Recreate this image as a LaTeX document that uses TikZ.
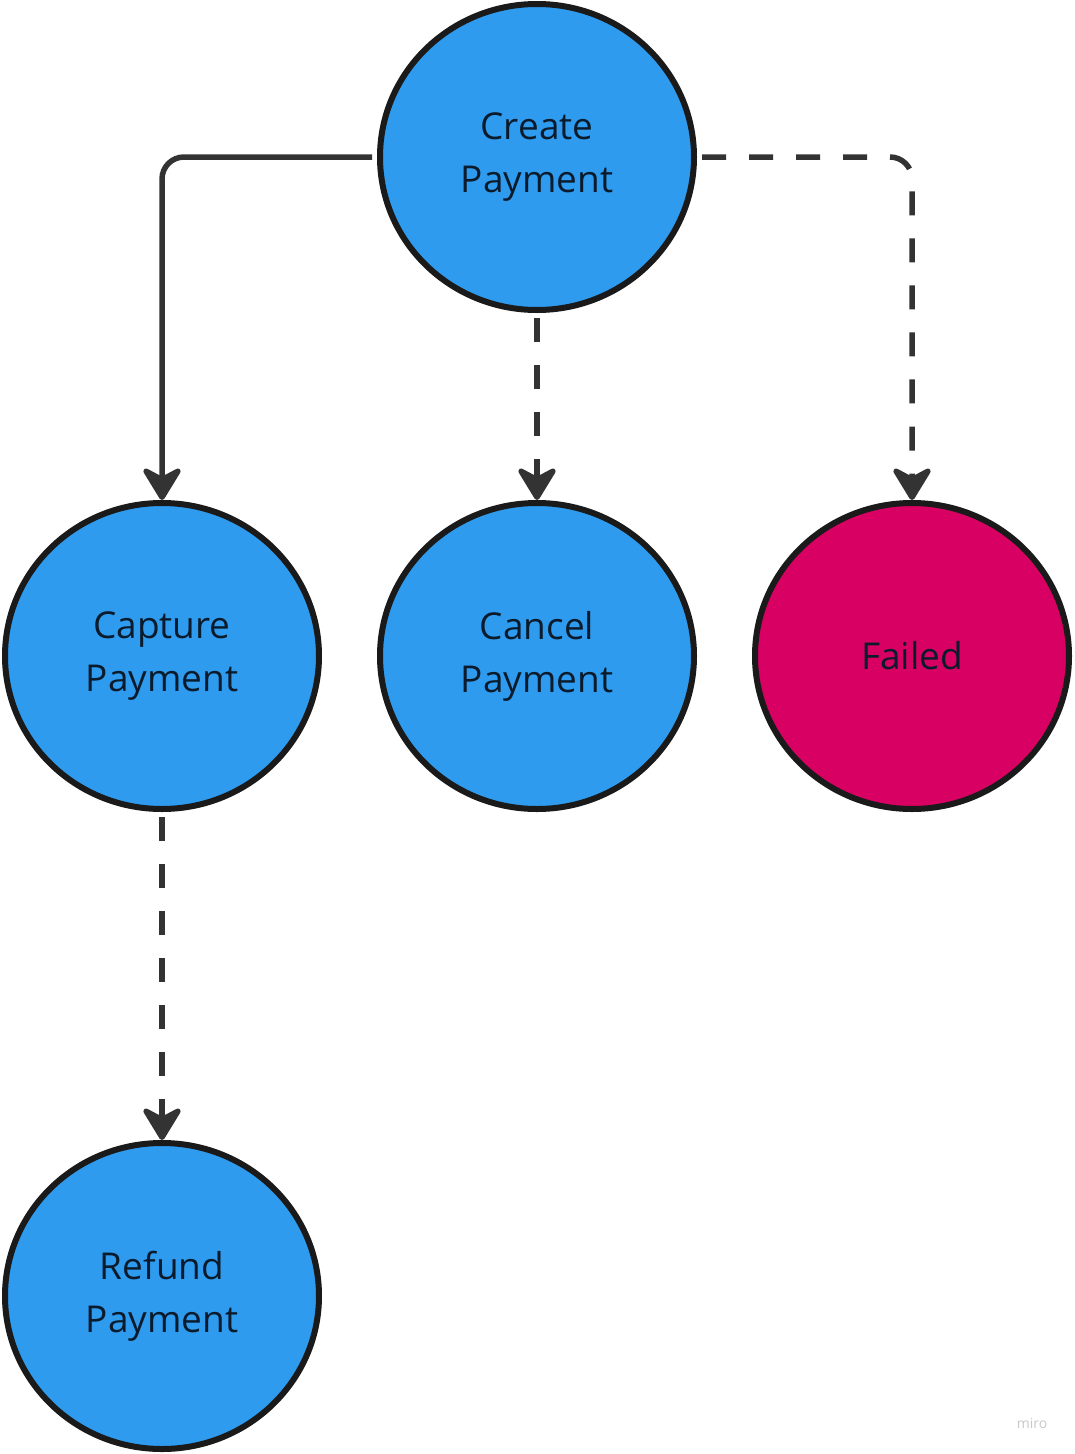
\documentclass[tikz,border=0pt]{standalone}
\usepackage{fontspec}
\setmainfont{Open Sans}
\usetikzlibrary{arrows.meta,shapes.geometric}
\definecolor{stblue}{HTML}{2F9BEF}
\definecolor{stred}{HTML}{D80062}
\definecolor{stborder}{HTML}{1A1A1A}
\definecolor{sttext}{HTML}{0B1B2B}
\definecolor{stline}{HTML}{333333}
\definecolor{stmark}{HTML}{C8C8C8}
\tikzset{
  state/.style={ellipse, draw=stborder, line width=6pt, minimum width=314pt, minimum height=306pt,
    inner sep=0pt, align=center, text=sttext, font=\fontsize{37}{53}\selectfont},
  bluestate/.style={state, fill=stblue},
  redstate/.style={state, fill=stred},
  conn/.style={draw=stline, line width=5.5pt, rounded corners=22pt,
    -{Stealth[length=38pt,width=46pt,inset=12pt,round]}},
  dashconn/.style={conn, dash pattern=on 24pt off 23pt}
}
\begin{document}
\begin{tikzpicture}[x=1pt,y=-1pt]
\useasboundingbox (0,0) rectangle (1074,1454);
\node[bluestate] (create) at (537,157) {Create\\Payment};
\node[bluestate] (capture) at (162,656) {Capture\\Payment};
\node[bluestate] (cancel) at (537,656) {Cancel\\Payment};
\node[redstate] (failed) at (912,656) {Failed};
\node[bluestate] (refund) at (162,1296) {Refund\\Payment};
\draw[conn, shorten <=5pt] (create.west) -| (capture.north);
\draw[dashconn, shorten <=5pt] (create.south) -- (cancel.north);
\draw[dashconn, shorten <=5pt] (create.east) -| (failed.north);
\draw[dashconn, shorten <=5pt] (capture.south) -- (refund.north);
\node[text=stmark, font=\fontsize{14}{16}\selectfont] (mark) at (1032,1423) {miro};
\end{tikzpicture}
\end{document}
